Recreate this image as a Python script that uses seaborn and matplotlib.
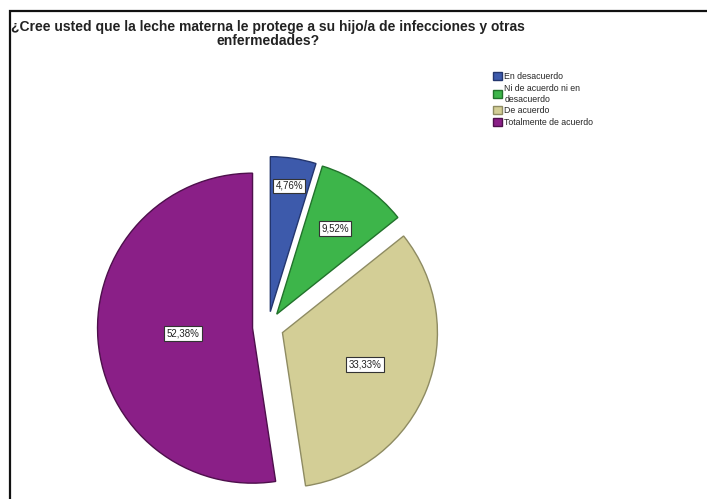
import matplotlib
matplotlib.use("Agg")
import matplotlib.pyplot as plt
import numpy as np
import seaborn as sns

# Survey responses (percent of respondents)
categories = ["En desacuerdo", "Ni de acuerdo ni en\ndesacuerdo", "De acuerdo", "Totalmente de acuerdo"]
percentages = [4.76, 9.52, 33.33, 52.38]
title_lines = ["¿Cree usted que la leche materna le protege a su hijo/a de infecciones y otras",
               "enfermedades?"]

fill_colors = ["#3D5AAB", "#3DB54A", "#D3CE96", "#8A1F87"]
edge_colors = ["#24366E", "#21722B", "#8E8B62", "#4E104C"]

sns.set_theme(style="white")
plt.rcParams["font.family"] = ["Liberation Sans", "DejaVu Sans"]

W, H = 707, 499
fig = plt.figure(figsize=(W / 100, H / 100), dpi=100)
ax = fig.add_axes([0, 0, 1, 1])

# Pie laid out in pixel units: centre, radius and explode offset
cx, cy, r = 268, H - 327, 155
offset = 15.5
wedges, _ = ax.pie(
    percentages,
    colors=fill_colors,
    startangle=90,
    counterclock=False,
    explode=[offset] * len(percentages),
    radius=r,
    center=(cx, cy),
    wedgeprops=dict(linewidth=1.0),
)
for w, ec in zip(wedges, edge_colors):
    w.set_edgecolor(ec)

# Percentage labels in boxed tags inside each wedge
label_frac = [0.82, 0.67, 0.57, 0.45]
for w, v, f in zip(wedges, percentages, label_frac):
    mid = np.deg2rad(0.5 * (w.theta1 + w.theta2))
    x0, y0 = w.center
    lx = x0 + f * r * np.cos(mid)
    ly = y0 + f * r * np.sin(mid)
    ax.text(lx, ly, f"{v:.2f}%".replace(".", ","), ha="center", va="center",
            fontsize=7, color="#222222",
            bbox=dict(boxstyle="square,pad=0.25", fc="white", ec="#333333", lw=0.8))

ax.set_xlim(0, W)
ax.set_ylim(0, H)
ax.set_aspect("equal")
ax.axis("off")

# Frame around the chart area
ax.plot([10, 10, W + 5], [-5, H - 11, H - 11], color="#111111", lw=1.6,
        solid_joinstyle="miter", clip_on=False)

# Title
ax.text(cx, H - 27, title_lines[0], ha="center", va="center",
        fontsize=10, fontweight="bold", color="#222222")
ax.text(cx, H - 41, title_lines[1], ha="center", va="center",
        fontsize=10, fontweight="bold", color="#222222")

fig.legend(wedges, categories, loc="upper left",
           bbox_to_anchor=(489 / W, 1 - 68 / H), frameon=False,
           fontsize=6.3, handlelength=1.0, handleheight=1.0,
           handletextpad=0.25, labelspacing=0.32, borderpad=0)

fig.savefig("out.png", dpi=100, facecolor="white")
